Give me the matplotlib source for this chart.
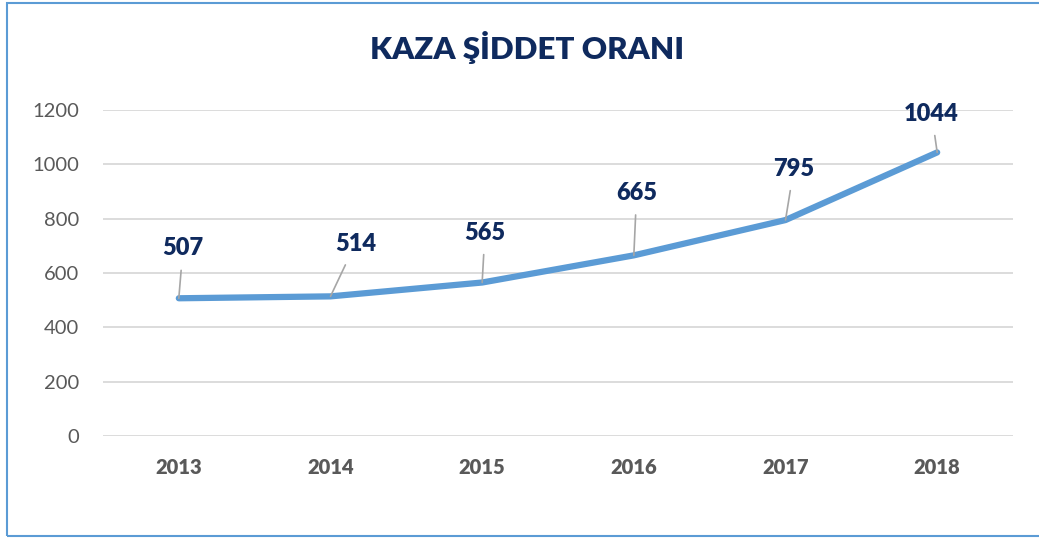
import matplotlib.pyplot as plt
from matplotlib.patches import Rectangle

years = ['2013', '2014', '2015', '2016', '2017', '2018']
values = [507, 514, 565, 665, 795, 1044]
# label offsets in points (dx, dy) relative to each point
label_offsets = [(3, 36), (18, 38), (2, 36), (2, 45), (6, 37), (-4, 28)]

plt.rcParams['font.family'] = ['Lato', 'DejaVu Sans']

fig = plt.figure(figsize=(10.39, 5.38), dpi=100)
ax = fig.add_axes([0.0991, 0.1896, 0.8759, 0.6059])

x = list(range(len(years)))
ax.plot(x, values, color='#5B9BD5', linewidth=4.5, solid_capstyle='round',
        solid_joinstyle='round', zorder=3)

for xi, v, (dx, dy) in zip(x, values, label_offsets):
    ax.annotate(str(v), xy=(xi, v), xytext=(dx, dy), textcoords='offset points',
                ha='center', va='center', fontsize=17, fontweight='heavy',
                color='#0F2A5E',
                arrowprops=dict(arrowstyle='-', color='#A6A6A6', lw=1.2,
                                shrinkA=6, shrinkB=0))

ax.set_xlim(-0.5, 5.5)
ax.set_ylim(0, 1200)
ax.set_yticks(range(0, 1201, 200))
ax.set_xticks(x)
ax.set_xticklabels(years, fontweight='heavy')
ax.tick_params(axis='both', length=0, labelsize=14.5, colors='#595959')
ax.tick_params(axis='x', pad=16)
ax.tick_params(axis='y', pad=17)
ax.grid(axis='y', color='#D9D9D9', linewidth=1.3)
ax.set_axisbelow(True)
for s in ax.spines.values():
    s.set_visible(False)

fig.text(0.507, 0.912, 'KAZA ŞİDDET ORANI', ha='center', va='center',
         fontsize=22.5, fontweight='heavy', color='#0F2A5E')

fig.patches.append(Rectangle((0.0065, 0.004), 1.2, 0.99, transform=fig.transFigure,
                             fill=False, edgecolor='#5B9BD5', linewidth=1.5))

plt.savefig('out.png', dpi=100)
